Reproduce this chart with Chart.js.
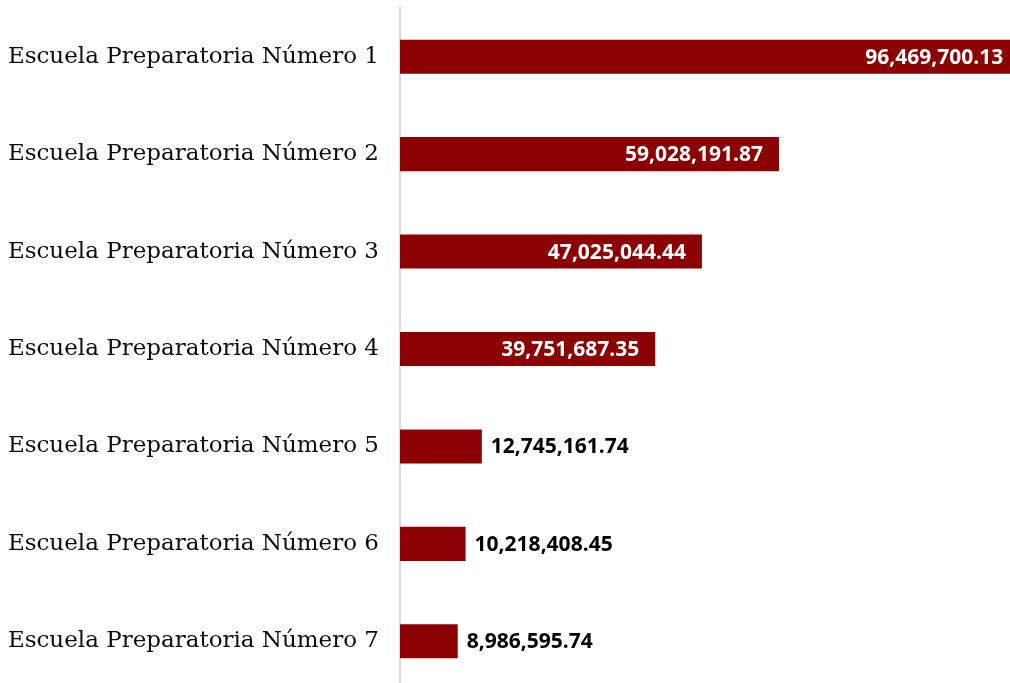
<!DOCTYPE html>
<html lang="es">
<head>
<meta charset="UTF-8">
<title>Escuelas Preparatorias</title>
<script src="https://cdn.jsdelivr.net/npm/chart.js"></script>
<style>
  html, body {
    margin: 0;
    padding: 0;
    background: #ffffff;
    overflow: hidden;
  }
  .wrap {
    position: relative;
    width: 1042px;
    height: 690px;
  }
</style>
</head>
<body>
<div class="wrap">
  <canvas id="chart"></canvas>
</div>
<script>
const escuelas = [
  'Escuela Preparatoria Número 1',
  'Escuela Preparatoria Número 2',
  'Escuela Preparatoria Número 3',
  'Escuela Preparatoria Número 4',
  'Escuela Preparatoria Número 5',
  'Escuela Preparatoria Número 6',
  'Escuela Preparatoria Número 7'
];
const montos = [
  96469700.13,
  59028191.87,
  47025044.44,
  39751687.35,
  12745161.74,
  10218408.45,
  8986595.74
];
const maxEje = 100000000;

const fmt = v => v.toLocaleString('en-US', { minimumFractionDigits: 2, maximumFractionDigits: 2 });

// amounts: inside the bar (white) when it is long, beside it (black) otherwise
const etiquetas = {
  id: 'etiquetas',
  afterDatasetsDraw(chart) {
    const { ctx } = chart;
    const meta = chart.getDatasetMeta(0);
    ctx.save();
    ctx.font = 'bold 21px "Open Sans", sans-serif';
    ctx.textBaseline = 'middle';
    meta.data.forEach((bar, i) => {
      const v = montos[i];
      const txt = fmt(v);
      if (v > 30000000) {
        ctx.fillStyle = '#ffffff';
        ctx.textAlign = 'right';
        ctx.fillText(txt, bar.x - 16, bar.y + 1);
      } else {
        ctx.fillStyle = '#000000';
        ctx.textAlign = 'left';
        ctx.fillText(txt, bar.x + 9, bar.y + 1);
      }
    });
    ctx.restore();
  }
};

new Chart(document.getElementById('chart'), {
  type: 'bar',
  data: {
    labels: escuelas,
    datasets: [{
      data: montos,
      backgroundColor: '#8b0000',
      borderWidth: 0,
      barPercentage: 0.35,
      categoryPercentage: 1
    }]
  },
  options: {
    indexAxis: 'y',
    responsive: true,
    maintainAspectRatio: false,
    animation: false,
    layout: { padding: { top: 8, right: 0, bottom: 0, left: 0 } },
    plugins: {
      legend: { display: false },
      tooltip: { enabled: false }
    },
    scales: {
      x: {
        display: false,
        min: 0,
        max: maxEje
      },
      y: {
        afterFit(scale) {
          scale.width = 400;
          // the tick padding should only push labels left, not shrink the plot vertically
          scale.paddingTop = 0;
          scale.paddingBottom = 0;
        },
        grid: { display: false, drawTicks: false },
        border: { display: true, color: '#d9d9d9', width: 2 },
        ticks: {
          padding: 21,
          color: '#0d0d0d',
          font: { family: '"DejaVu Serif", serif', size: 23 }
        }
      }
    }
  },
  plugins: [etiquetas]
});
</script>
</body>
</html>
